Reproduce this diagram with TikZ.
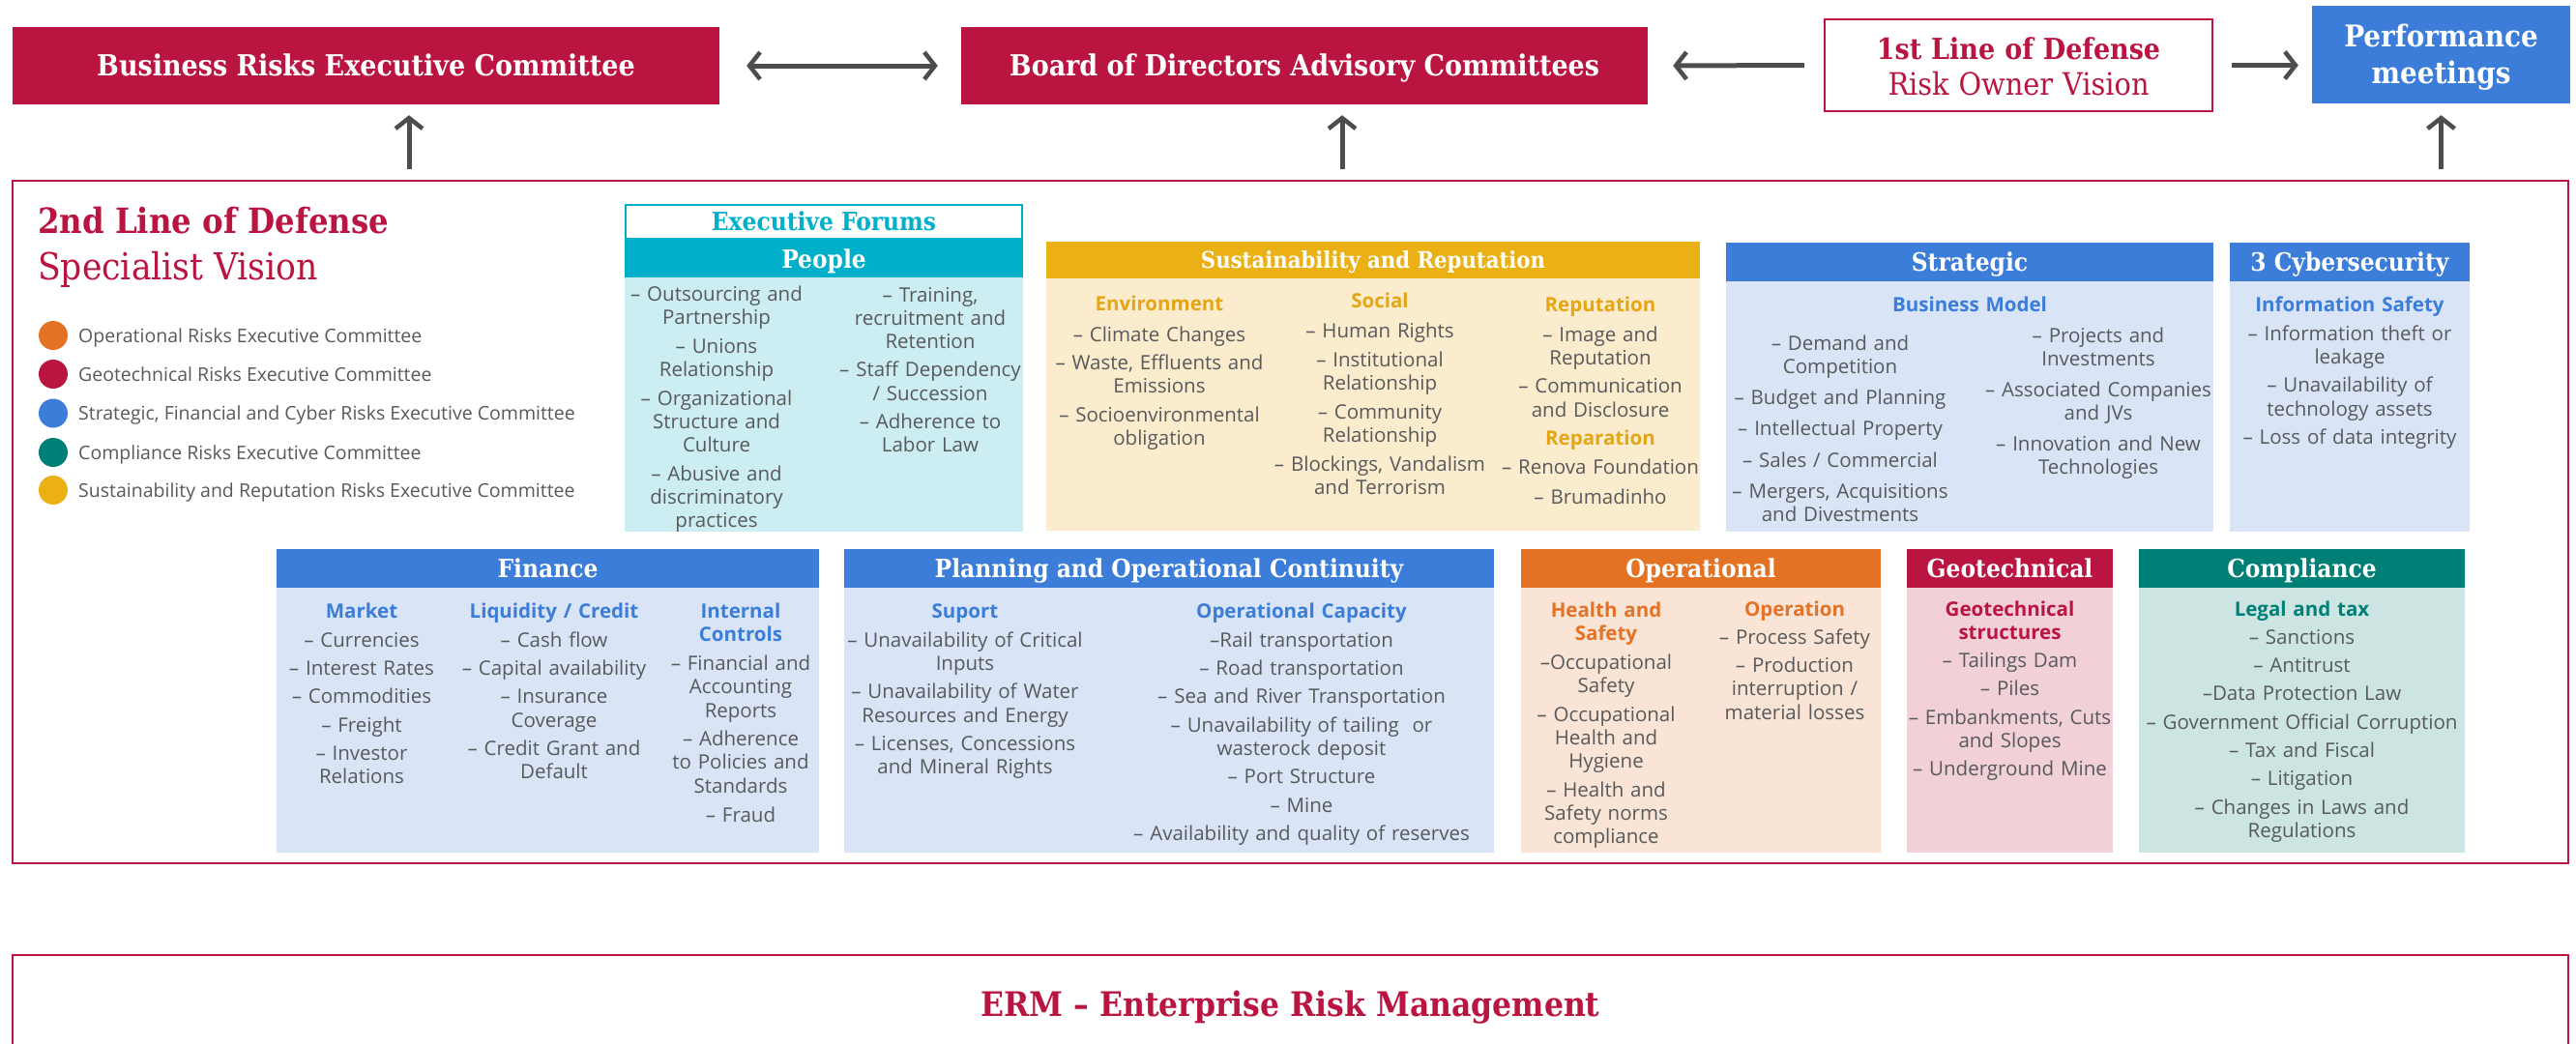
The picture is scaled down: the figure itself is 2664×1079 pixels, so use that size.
\documentclass[tikz,border=0pt]{standalone}
\usepackage{fontspec}
\setmainfont{Open Sans}
\newfontfamily\slab{DejaVu Serif Condensed}
\usetikzlibrary{arrows.meta}
\definecolor{crim}{RGB}{186,20,64}
\definecolor{cyanH}{RGB}{0,176,202}
\definecolor{cyanL}{RGB}{204,237,242}
\definecolor{yelH}{RGB}{235,176,20}
\definecolor{yelL}{RGB}{251,236,206}
\definecolor{yelT}{RGB}{228,166,20}
\definecolor{bluH}{RGB}{59,125,216}
\definecolor{bluL}{RGB}{217,229,246}
\definecolor{oraH}{RGB}{227,114,36}
\definecolor{oraL}{RGB}{249,228,213}
\definecolor{geoL}{RGB}{242,208,216}
\definecolor{tealH}{RGB}{0,127,118}
\definecolor{tealL}{RGB}{204,229,227}
\definecolor{txt}{RGB}{88,89,91}
\definecolor{arrc}{RGB}{77,77,79}
\newcommand\sh[2]{{\bfseries\color{#1}#2}}
\tikzset{
  col/.style={inner sep=0pt, anchor=base, align=center, text width=420pt, text=txt, font={\fontsize{20.5}{24.3}\selectfont}},
  hd/.style={inner sep=0pt, text=white, font={\slab\bfseries\fontsize{26}{30}\selectfont}, text height=19pt, text depth=0pt},
  redbox/.style={fill=crim, inner sep=0pt, text=white, font={\slab\bfseries\fontsize{30}{36}\selectfont}, text height=21pt, text depth=0pt},
  twol/.style={inner sep=0pt, anchor=base, align=center, text width=380pt},
  arr/.style={draw=arrc, line width=5pt, -{Straight Barb[length=11pt,width=28pt,line width=4.5pt]}},
  darr/.style={draw=arrc, line width=5pt, {Straight Barb[length=11pt,width=28pt,line width=4.5pt]}-{Straight Barb[length=11pt,width=28pt,line width=4.5pt]}},
  dot/.style={circle, inner sep=0pt, minimum size=30pt},
  leg/.style={anchor=base west, inner sep=0pt, text=txt, font={\fontsize{19.5}{24}\selectfont}},
}
\begin{document}
\begin{tikzpicture}[x=1pt,y=-1pt]
\fill[white] (0,0) rectangle (2664,1079);
\useasboundingbox (0,0) rectangle (2664,1079);

% ---------- top row ----------
\node[redbox, minimum width=731pt, minimum height=80pt] (bre) at (378.5,68) {Business Risks Executive Committee};
\node[redbox, minimum width=710pt, minimum height=80pt] (board) at (1349,68) {Board of Directors Advisory Committees};
\node[draw=crim, line width=2.5pt, fill=white, minimum width=401pt, minimum height=95pt, inner sep=0pt] (first) at (2087.5,67.5) {};
\node[twol, text=crim, font={\slab\fontsize{30}{37}\selectfont}] (firstt) at (2087.5,61) {{\bfseries 1st Line of Defense}\\{\fontsize{32}{37}\selectfont Risk Owner Vision}};
\node[fill=bluH, minimum width=267pt, minimum height=101pt, inner sep=0pt] (perf) at (2524.5,56.5) {};
\node[twol, text=white, font={\slab\bfseries\fontsize{31}{38}\selectfont}] (perft) at (2524.5,48) {Performance\\meetings};

\draw[darr, shorten <=28pt, shorten >=24pt] (bre.east) -- (board.west);
\draw[arr, shorten <=20pt, shorten >=26pt] (first.west) -- (board.east);
\draw[arr, shorten <=19pt, shorten >=14pt] (first.east) -- (first.east -| perf.west);

\coordinate (u1) at (423,187);
\coordinate (u2) at (1388,187);
\coordinate (u3) at (2524.5,187);
\draw[arr, shorten <=12pt, shorten >=11pt] (u1) -- (u1 |- bre.south);
\draw[arr, shorten <=12pt, shorten >=11pt] (u2) -- (u2 |- board.south);
\draw[arr, shorten <=12pt, shorten >=12pt] (u3) -- (u3 |- perf.south);

% ---------- main box ----------
\draw[crim, line width=2.5pt] (13,187) rectangle (2656,893);
\node[anchor=base west, inner sep=0pt, text=crim, font={\slab\bfseries\fontsize{36}{40}\selectfont}] (t2) at (39,241) {2nd Line of Defense};
\node[anchor=base west, inner sep=0pt, text=crim, font={\slab\fontsize{38.5}{42}\selectfont}] (t2b) at (39,289) {Specialist Vision};

% legend
\node[dot, fill=oraH] (lg1) at (55,347) {};
\node[dot, fill=crim] (lg2) at (55,387) {};
\node[dot, fill=bluH] (lg3) at (55,427.5) {};
\node[dot, fill=tealH] (lg4) at (55,468) {};
\node[dot, fill=yelH] (lg5) at (55,507) {};
\node[leg] (lt1) at (81,354) {Operational Risks Executive Committee};
\node[leg] (lt2) at (81,394) {Geotechnical Risks Executive Committee};
\node[leg] (lt3) at (81,434.5) {Strategic, Financial and Cyber Risks Executive Committee};
\node[leg] (lt4) at (81,475) {Compliance Risks Executive Committee};
\node[leg] (lt5) at (81,514) {Sustainability and Reputation Risks Executive Committee};

% ---------- row 1 ----------
\fill[cyanL] (646,287) rectangle (1058,550);
\fill[yelL] (1082,288) rectangle (1758,549);
\fill[bluL] (1785,291) rectangle (2289,550);
\fill[bluL] (2306,291) rectangle (2554,550);

\node[hd, draw=cyanH, line width=2.5pt, fill=white, text=cyanH, minimum width=410pt, minimum height=35pt, text height=18pt] (ef) at (852,229.5) {Executive Forums};
\node[hd, fill=cyanH, minimum width=412pt, minimum height=39pt] (people) at (852,267.5) {People};
\node[hd, fill=yelH, minimum width=676pt, minimum height=38pt, font={\slab\bfseries\fontsize{23.6}{28}\selectfont}, text height=17.5pt] (sust) at (1420,269) {Sustainability and Reputation};
\node[hd, fill=bluH, minimum width=504pt, minimum height=40pt] (strat) at (2037,271) {Strategic};
\node[hd, fill=bluH, minimum width=248pt, minimum height=40pt] (cyber) at (2430,271) {3 Cybersecurity};

\node[col] (pl) at (741,311) {– Outsourcing and\\Partnership\\[6pt]– Unions\\Relationship\\[5pt]– Organizational\\Structure and\\Culture\\[5pt]– Abusive and\\discriminatory\\practices};
\node[col] (pr) at (962,312) {– Training,\\recruitment and\\Retention\\[5pt]– Staff Dependency\\/ Succession\\[5pt]– Adherence to\\Labor Law};

\node[col] (env) at (1199,321) {\sh{yelT}{Environment}\\[8pt]– Climate Changes\\[5pt]– Waste, Effluents and\\Emissions\\[5pt]– Socioenvironmental\\obligation};
\node[col] (soc) at (1427,318) {\sh{yelT}{Social}\\[7pt]– Human Rights\\[5.5pt]– Institutional\\Relationship\\[5.5pt]– Community\\Relationship\\[5.5pt]– Blockings, Vandalism\\and Terrorism};
\node[col] (rep) at (1655,322) {\sh{yelT}{Reputation}\\[7pt]– Image and\\Reputation\\[5pt]– Communication\\and Disclosure\\[5pt]\sh{yelT}{Reparation}\\[6pt]– Renova Foundation\\[6pt]– Brumadinho};

\node[col] (bm) at (2037,322) {\sh{bluH}{Business Model}};
\node[col] (stl) at (1903,362) {– Demand and\\Competition\\[8pt]– Budget and Planning\\[8pt]– Intellectual Property\\[8pt]– Sales / Commercial\\[8pt]– Mergers, Acquisitions\\and Divestments};
\node[col] (str) at (2170,354) {– Projects and\\Investments\\[8pt]– Associated Companies\\and JVs\\[7pt]– Innovation and New\\Technologies};

\node[col] (cyb) at (2430,322) {\sh{bluH}{Information Safety}\\[6pt]– Information theft or\\leakage\\[5pt]– Unavailability of\\technology assets\\[5pt]– Loss of data integrity};

% ---------- row 2 ----------
\fill[bluL] (286,608) rectangle (847,882);
\fill[bluL] (873,608) rectangle (1545,882);
\fill[oraL] (1573,608) rectangle (1945,882);
\fill[geoL] (1972,608) rectangle (2185,882);
\fill[tealL] (2212,608) rectangle (2549,882);

\node[hd, fill=bluH, minimum width=561pt, minimum height=40pt] (fin) at (566.5,588) {Finance};
\node[hd, fill=bluH, minimum width=672pt, minimum height=40pt] (plan) at (1209,588) {Planning and Operational Continuity};
\node[hd, fill=oraH, minimum width=372pt, minimum height=40pt] (oper) at (1759,588) {Operational};
\node[hd, fill=crim, minimum width=213pt, minimum height=40pt] (geo) at (2078.5,588) {Geotechnical};
\node[hd, fill=tealH, minimum width=337pt, minimum height=40pt] (comp) at (2380.5,588) {Compliance};

\node[col] (mkt) at (374,639) {\sh{bluH}{Market}\\[6pt]– Currencies\\[5pt]– Interest Rates\\[5pt]– Commodities\\[5pt]– Freight\\[5pt]– Investor\\Relations};
\node[col] (liq) at (573,639) {\sh{bluH}{Liquidity / Credit}\\[6pt]– Cash flow\\[5pt]– Capital availability\\[5pt]– Insurance\\Coverage\\[5pt]– Credit Grant and\\Default};
\node[col] (ic) at (766,639) {\sh{bluH}{Internal}\\\sh{bluH}{Controls}\\[6pt]– Financial and\\Accounting\\Reports\\[5pt]– Adherence\\to Policies and\\Standards\\[6pt]– Fraud};

\node[col] (sup) at (998,639) {\sh{bluH}{Suport}\\[6pt]– Unavailability of Critical\\Inputs\\[5pt]– Unavailability of Water\\Resources and Energy\\[5pt]– Licenses, Concessions\\and Mineral Rights};
\node[col] (opc) at (1346,639) {\sh{bluH}{Operational Capacity}\\[6pt]–Rail transportation\\[5pt]– Road transportation\\[5pt]– Sea and River Transportation\\[5pt]– Unavailability of tailing\ \ or\\wasterock deposit\\[5pt]– Port Structure\\[5pt]– Mine\\[5pt]– Availability and quality of reserves};

\node[col] (hs) at (1661,638) {\sh{oraH}{Health and}\\\sh{oraH}{Safety}\\[6pt]–Occupational\\Safety\\[5pt]– Occupational\\Health and\\Hygiene\\[5pt]– Health and\\Safety norms\\compliance};
\node[col] (op) at (1856,637) {\sh{oraH}{Operation}\\[5pt]– Process Safety\\[5pt]– Production\\interruption /\\material losses};

\node[col] (gs) at (2078.5,637) {\sh{crim}{Geotechnical}\\\sh{crim}{structures}\\[5pt]– Tailings Dam\\[5pt]– Piles\\[5pt]– Embankments, Cuts\\and Slopes\\[5pt]– Underground Mine};

\node[col] (lt) at (2380.5,637) {\sh{tealH}{Legal and tax}\\[5pt]– Sanctions\\[5pt]– Antitrust\\[5pt]–Data Protection Law\\[5pt]– Government Official Corruption\\[5pt]– Tax and Fiscal\\[5pt]– Litigation\\[5pt]– Changes in Laws and\\Regulations};

% ---------- ERM ----------
\draw[crim, line width=2.5pt] (13,1095) -- (13,988) -- (2656,988) -- (2656,1095);
\node[anchor=base, inner sep=0pt, text=crim, font={\slab\bfseries\fontsize{35}{40}\selectfont}] (erm) at (1334.5,1051) {ERM – Enterprise Risk Management};
\end{tikzpicture}
\end{document}
